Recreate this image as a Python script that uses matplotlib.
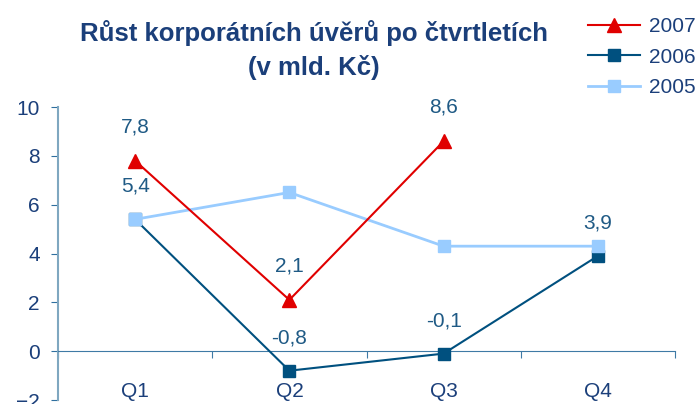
import matplotlib.pyplot as plt

# quarterly growth of corporate loans (bn CZK)
quarters = ["Q1", "Q2", "Q3", "Q4"]
y2007 = [7.8, 2.1, 8.6]
y2006 = [5.4, -0.8, -0.1, 3.9]
y2005 = [5.4, 6.5, 4.3, 4.3]
labels_2007 = ["7,8", "2,1", "8,6"]
labels_2006 = ["5,4", "-0,8", "-0,1", "3,9"]

navy = "#1B3F7A"
lbl_col = "#1F5A85"
plt.rcParams['font.family'] = ['Liberation Sans', 'DejaVu Sans']

fig = plt.figure(figsize=(6.99, 4.04), dpi=100)
ax = fig.add_axes([58/699, 4/404, 617/699, 293/404])

x = [i + 0.5 for i in range(len(quarters))]

l06, = ax.plot(x, y2006, color="#00507F", lw=1.5, marker="s", ms=8.5,
               mec="#00507F", label="2006", zorder=3)
l05, = ax.plot(x, y2005, color="#99CCFF", lw=2, marker="s", ms=8.5,
               mec="#99CCFF", label="2005", zorder=4)
l07, = ax.plot(x[:len(y2007)], y2007, color="#E00000", lw=1.5, marker="^",
               ms=10, mec="#E00000", label="2007", zorder=5)

for xi, yi, t in zip(x, y2007, labels_2007):
    ax.annotate(t, (xi, yi), xytext=(0, 34), textcoords="offset pixels",
                ha="center", va="center", fontsize=15, color=lbl_col)
for xi, yi, t in zip(x, y2006, labels_2006):
    ax.annotate(t, (xi, yi), xytext=(0, 33), textcoords="offset pixels",
                ha="center", va="center", fontsize=15, color=lbl_col)

ax.set_xlim(0, 4)
ax.set_ylim(-2, 10)
ax.set_yticks(range(-2, 11, 2))
ax.set_xticks([0, 1, 2, 3, 4])
ax.set_xticklabels([])
ax.set_xticks(x, minor=True)
ax.set_xticklabels(quarters, minor=True)

ax.spines['top'].set_visible(False)
ax.spines['right'].set_visible(False)
ax.spines['bottom'].set_position(('data', 0))
ax.spines['bottom'].set_color("#3F7AA5")
ax.spines['left'].set_color("#7FA7C0")
ax.spines['left'].set_linewidth(1.5)

ax.tick_params(axis='y', colors="#2F6F9F", labelcolor=navy, labelsize=15,
               length=5, pad=8)
ax.tick_params(axis='x', which='major', colors="#3F7AA5", length=5)
ax.tick_params(axis='x', which='minor', length=0, labelcolor=navy,
               labelsize=15, pad=22)

fig.text(314/699, 1 - 50/404, "Růst korporátních úvěrů po čtvrtletích\n(v mld. Kč)",
         ha="center", va="center", fontsize=18.5, fontweight="bold", color=navy,
         linespacing=1.45)

fig.legend(handles=[l07, l06, l05], loc="upper left",
           bbox_to_anchor=(580/699, 1 - 9/404), frameon=False, fontsize=15,
           labelcolor=navy, handlelength=2.5, handletextpad=0.4,
           labelspacing=0.55, borderaxespad=0)

fig.savefig("out.png", dpi=100)
